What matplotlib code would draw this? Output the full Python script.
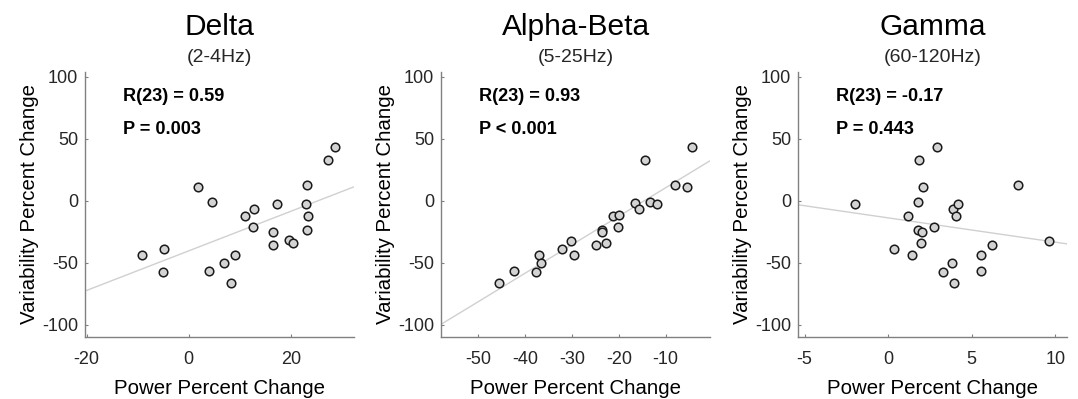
import numpy as np
import matplotlib
matplotlib.use("Agg")
import matplotlib.pyplot as plt

plt.rcParams['font.family'] = ['Liberation Sans', 'DejaVu Sans']
plt.rcParams['axes.unicode_minus'] = False

titles = ["Delta", "Alpha-Beta", "Gamma"]
subtitles = ["(2-4Hz)", "(5-25Hz)", "(60-120Hz)"]
r_texts = ["R(23) = 0.59", "R(23) = 0.93", "R(23) = -0.17"]
p_texts = ["P = 0.003", "P < 0.001", "P = 0.443"]

delta_x = [-9.1, -4.8, -5.0, 1.8, 4.6, 4.0, 6.9, 9.1, 8.3, 11.0, 12.9, 12.7, 17.3,
           16.5, 16.5, 19.7, 20.4, 23.2, 22.9, 23.3, 23.1, 27.4, 28.7]
delta_y = [-43.7, -39.1, -57.5, 10.8, -1.1, -56.7, -50.2, -44.0, -66.4, -12.1, -6.7, -20.8, -2.4,
           -25.4, -35.6, -31.8, -34.0, 12.7, -2.2, -11.9, -23.5, 32.7, 43.5]

alphabeta_x = [-45.7, -42.5, -37.7, -37.1, -36.6, -32.2, -30.3, -29.6, -24.8, -23.6, -23.6, -22.7,
               -21.3, -20.0, -20.1, -16.5, -15.7, -14.5, -13.3, -11.8, -7.9, -5.5, -4.4]
alphabeta_y = [-66.4, -56.7, -57.5, -44.0, -50.2, -39.1, -32.4, -43.7, -35.6, -23.2, -25.4, -34.0,
               -12.1, -11.6, -20.8, -1.9, -6.7, 32.7, -1.1, -2.4, 12.7, 10.8, 43.5]

gamma_x = [-1.98, 0.32, 1.2, 1.4, 1.86, 1.8, 1.8, 2.04, 2.1, 1.98, 2.75, 2.93, 3.27, 3.81,
           3.85, 4.05, 4.17, 3.95, 5.53, 5.53, 6.2, 7.78, 9.6]
gamma_y = [-2.4, -39.1, -12.1, -44.0, 32.7, -1.1, -23.5, -25.4, 10.8, -34.0, -20.8, 43.5, -57.5, -50.2,
           -6.7, -12.1, -2.2, -66.4, -44.0, -56.7, -35.6, 12.7, -32.4]

xs = [delta_x, alphabeta_x, gamma_x]
ys = [delta_y, alphabeta_y, gamma_y]
xlims = [(-20.3, 32.4), (-58.0, -0.5), (-5.4, 10.7)]
xticks = [[-20, 0, 20], [-50, -40, -30, -20, -10], [-5, 0, 5, 10]]
yticks = [-100, -50, 0, 50, 100]

W, H = 1078, 399
fig = plt.figure(figsize=(W / 100, H / 100), dpi=100)
lefts = [85, 441, 798]
rights = [354, 710, 1067]
top, bottom = 72, 337

spine_c = '#808080'
text_c = '#262626'

for i in range(3):
    ax = fig.add_axes([lefts[i] / W, 1 - bottom / H, (rights[i] - lefts[i]) / W, (bottom - top) / H])
    x = np.array(xs[i]); y = np.array(ys[i])
    ax.set_xlim(*xlims[i]); ax.set_ylim(-110, 104)
    k, b = np.polyfit(x, y, 1)
    lx = np.array(xlims[i])
    ax.plot(lx, k * lx + b, color='#d0d0d0', lw=1.0, zorder=1)
    ax.scatter(x, y, s=38, facecolor='#d3d3d3', edgecolor='#1a1a1a', linewidth=1.1, zorder=3)
    for s in ['top', 'right']:
        ax.spines[s].set_visible(False)
    for s in ['left', 'bottom']:
        ax.spines[s].set_color(spine_c)
        ax.spines[s].set_linewidth(1.0)
    ax.set_xticks(xticks[i]); ax.set_yticks(yticks)
    ax.tick_params(direction='in', length=2.5, width=0.8, color=spine_c, labelcolor=text_c,
                   labelsize=13, pad=5)
    ax.tick_params(axis='x', pad=10)
    ax.set_xlabel("Power Percent Change", fontsize=14.7, color='black', labelpad=8)
    ax.set_ylabel("Variability Percent Change", fontsize=14.7, color='black', labelpad=2)
    ax.text(0.141, 0.892, r_texts[i], transform=ax.transAxes, fontsize=13.1, fontweight='bold',
            va='baseline', ha='left')
    ax.text(0.141, 0.766, p_texts[i], transform=ax.transAxes, fontsize=13.1, fontweight='bold',
            va='baseline', ha='left')
    cx = (lefts[i] + rights[i]) / 2 / W
    fig.text(cx, 1 - 35 / H, titles[i], fontsize=21.5, ha='center', va='baseline')
    fig.text(cx, 1 - 61.5 / H, subtitles[i], fontsize=14, ha='center', va='baseline', color=text_c)

fig.savefig("out.png", dpi=100, facecolor='white')
